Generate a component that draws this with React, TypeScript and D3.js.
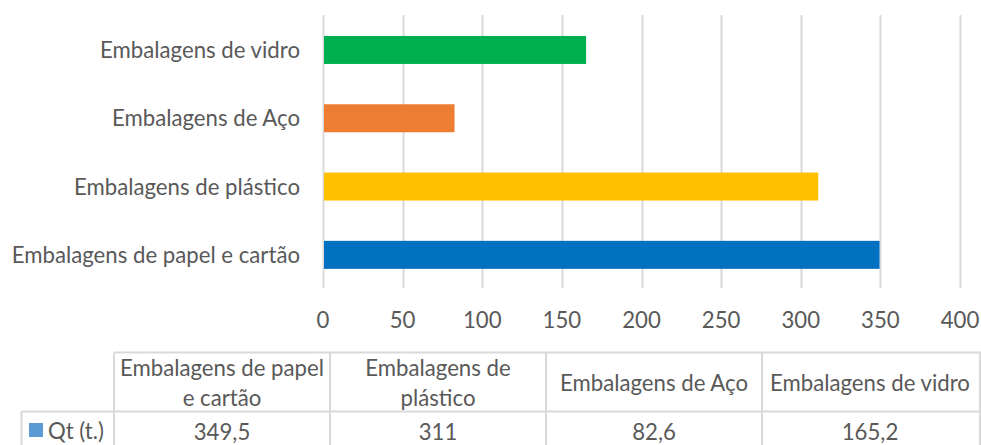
import React from "react";
import * as d3 from "d3";

const categories = [
  "Embalagens de papel e cartão",
  "Embalagens de plástico",
  "Embalagens de Aço",
  "Embalagens de vidro",
];
const values = [349.5, 311, 82.6, 165.2];
const valueLabels = ["349,5", "311", "82,6", "165,2"];
const barColors = ["#0070C0", "#FFC000", "#ED7D31", "#00B050"];
const xTicks = [0, 50, 100, 150, 200, 250, 300, 350, 400];
const seriesName = "Qt (t.)";
const seriesKeyColor = "#5B9BD5";

const W = 981;
const H = 445;
const FONT = "Lato, 'Open Sans', sans-serif";
const FS = 22.2;
const TEXT = "#595959";
const GRID = "#D9D9D9";

let ctx: CanvasRenderingContext2D | null = null;
function measure(s: string, size: number) {
  if (!ctx) ctx = document.createElement("canvas").getContext("2d");
  if (!ctx) return s.length * size * 0.5;
  ctx.font = `${size}px Lato`;
  return ctx.measureText(s).width;
}
function wrap(s: string, maxW: number, size: number) {
  const words = s.split(" ");
  const lines: string[] = [];
  let cur = "";
  for (const w of words) {
    const t = cur ? cur + " " + w : w;
    if (measure(t, size) > maxW && cur) {
      lines.push(cur);
      cur = w;
    } else cur = t;
  }
  if (cur) lines.push(cur);
  return lines;
}

export default function App() {
  const x = d3.scaleLinear().domain([0, 400]).range([323, 960]);
  const y = d3
    .scaleBand<string>()
    .domain([...categories].reverse())
    .range([15.8, 289])
    .paddingInner(0.59)
    .paddingOuter(0.295);
  const gridTop = 15;
  const gridBottom = 288;

  // table
  const tLeft = 114;
  const tRight = 978;
  const col = d3.scaleBand<string>().domain(categories).range([tLeft, tRight]);
  const rowTop = 352.5;
  const rowMid = 411.5;
  const rowBottom = 452;
  const labelLeft = 21.5;
  const lineH = 29.5;
  const headerCenter = 383;
  const valueCenter = 432;

  return (
    <svg
      width={W}
      height={H}
      style={{ position: "absolute", left: 0, top: 0, display: "block" }}
      fontFamily={FONT}
    >
      <rect x={0} y={0} width={W} height={H} fill="#fff" />
      {xTicks.map((t) => (
        <line
          key={"g" + t}
          x1={Math.round(x(t)) + 0.5}
          x2={Math.round(x(t)) + 0.5}
          y1={gridTop}
          y2={gridBottom}
          stroke={GRID}
          strokeWidth={2}
        />
      ))}
      {categories.map((c, i) => (
        <rect
          key={"b" + c}
          x={x(0) + 1}
          y={y(c)}
          width={x(values[i]) - x(0) - 1}
          height={y.bandwidth()}
          fill={barColors[i]}
        />
      ))}
      {xTicks.map((t) => (
        <text
          key={"t" + t}
          x={x(t)}
          y={320}
          dy="0.36em"
          textAnchor="middle"
          fontSize={FS}
          fill={TEXT}
        >
          {t}
        </text>
      ))}
      {categories.map((c) => (
        <text
          key={"l" + c}
          x={300}
          y={(y(c) as number) + y.bandwidth() / 2}
          dy="0.36em"
          textAnchor="end"
          fontSize={FS}
          fill={TEXT}
        >
          {c}
        </text>
      ))}

      {/* data table */}
      <g stroke={GRID} strokeWidth={2} fill="none">
        <line x1={tLeft} x2={W} y1={rowTop} y2={rowTop} />
        <line x1={labelLeft} x2={W} y1={rowMid} y2={rowMid} />
        <line x1={labelLeft} x2={labelLeft} y1={rowMid} y2={rowBottom} />
        {categories.map((c) => (
          <line
            key={"v" + c}
            x1={(col(c) as number)}
            x2={(col(c) as number)}
            y1={rowTop}
            y2={rowBottom}
          />
        ))}
        <line x1={tRight + 2} x2={tRight + 2} y1={rowTop} y2={rowBottom} />
      </g>
      {categories.map((c) => {
        const lines = wrap(c, col.bandwidth() - 6, FS);
        const cx = (col(c) as number) + col.bandwidth() / 2;
        const start = headerCenter - ((lines.length - 1) * lineH) / 2;
        return (
          <text
            key={"h" + c}
            x={cx}
            textAnchor="middle"
            fontSize={FS}
            fill={TEXT}
          >
            {lines.map((ln, k) => (
              <tspan key={k} x={cx} y={start + k * lineH} dy="0.36em">
                {ln}
              </tspan>
            ))}
          </text>
        );
      })}
      {categories.map((c, i) => (
        <text
          key={"val" + c}
          x={(col(c) as number) + col.bandwidth() / 2}
          y={valueCenter}
          dy="0.36em"
          textAnchor="middle"
          fontSize={FS}
          fill={TEXT}
        >
          {valueLabels[i]}
        </text>
      ))}
      <rect x={29} y={423} width={14} height={14} fill={seriesKeyColor} />
      <text x={48} y={431} dy="0.36em" fontSize={FS} fill={TEXT}>
        {seriesName}
      </text>
    </svg>
  );
}
